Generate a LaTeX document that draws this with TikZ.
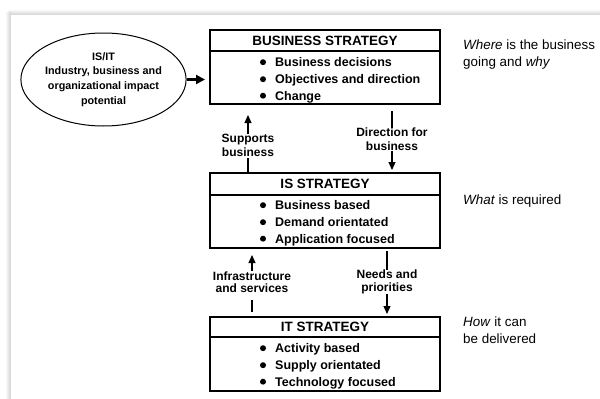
\documentclass[tikz,border=0pt]{standalone}
\usepackage{fontspec}
\setmainfont{Liberation Sans}
\usetikzlibrary{arrows.meta,shapes.geometric}
\newcommand\bulletline[3]{%
  \node[itemtext] (#1) at (275,#2) {#3};
  \fill ([xshift=-12pt,yshift=4.3pt]#1.base west) circle (3pt);}
\begin{document}
\begin{tikzpicture}[x=1pt,y=-1pt,
  titlebox/.style={draw, line width=1.1pt, minimum width=230pt, inner sep=0pt,
    font=\fontsize{13.5}{15}\selectfont\bfseries},
  bodybox/.style={draw, line width=1.1pt, minimum width=230pt, inner sep=0pt},
  itemtext/.style={anchor=base west, inner sep=0pt, font=\fontsize{12.5}{14}\selectfont\bfseries},
  lbl/.style={align=center, inner sep=0pt, font=\fontsize{12}{14}\selectfont\bfseries},
  side/.style={anchor=base west, align=left, inner sep=0pt, font=\fontsize{13.4}{17}\selectfont},
  arr/.style={line width=1.2pt, -{Triangle[length=8pt,width=7pt]}},
  plain/.style={line width=1.2pt}]
\useasboundingbox (0,0) rectangle (600,399);
% window shadow
\shade[top color=white, bottom color=black!18] (8,9) rectangle (600,15);
\shade[left color=white, right color=black!18] (5,12) rectangle (11,399);
\fill[white] (11,15) rectangle (600,399);

% business strategy
\node[titlebox, minimum height=21pt] (bst) at (325,40.5) {BUSINESS STRATEGY};
\node[bodybox, minimum height=53pt] (bsb) at (325,77.5) {};
\bulletline{b1}{66.5}{Business decisions}
\bulletline{b2}{83.5}{Objectives and direction}
\bulletline{b3}{100}{Change}

% IS strategy
\node[titlebox, minimum height=22pt] (ist) at (325,184) {IS STRATEGY};
\node[bodybox, minimum height=53pt] (isb) at (325,221.5) {};
\bulletline{i1}{209.5}{Business based}
\bulletline{i2}{226.5}{Demand orientated}
\bulletline{i3}{243}{Application focused}

% IT strategy
\node[titlebox, minimum height=20pt] (itt) at (325,327) {IT STRATEGY};
\node[bodybox, minimum height=54pt] (itb) at (325,364) {};
\bulletline{t1}{352.5}{Activity based}
\bulletline{t2}{369.5}{Supply orientated}
\bulletline{t3}{386}{Technology focused}

% ellipse
\node[draw, ellipse, line width=1pt, minimum width=159pt, minimum height=93pt, inner sep=0pt,
  align=center, font=\fontsize{10.8}{14.7}\selectfont\bfseries] (ell) at (103.5,79.5)
  {IS/IT\\Industry, business and\\organizational impact\\potential};
\coordinate (bsin) at (205,79.5);
\draw[line width=2.3pt, -{Triangle[length=9pt,width=9pt]}] (ell.east) -- (bsin);

% connectors between boxes
\node[lbl] (sb) at (248,145) {Supports\\business};
\coordinate (sbtip) at (248,115);
\draw[plain] (ist.north -| sb) -- ([yshift=-2pt]sb.south);
\draw[arr] (sb.north) -- (sbtip);

\node[lbl] (db) at (392,139.5) {Direction for\\business};
\coordinate (dbstart) at (392,111);
\coordinate (dbtip) at (392,170);
\draw[plain] (dbstart) -- (db.north);
\draw[arr] (db.south) -- (dbtip);

\node[lbl, font=\fontsize{12}{12.5}\selectfont\bfseries] (inf) at (252,282) {Infrastructure\\and services};
\coordinate (inftip) at (252,255);
\coordinate (infstart) at (252,300);
\draw[arr] (inf.north) -- (inftip);
\draw[plain] (infstart) -- ([yshift=4pt]itt.north -| inf);

\node[lbl, font=\fontsize{12}{12.5}\selectfont\bfseries] (np) at (387,282) {Needs and\\priorities};
\coordinate (nptip) at (387,314);
\draw[plain] ([yshift=-2pt]isb.south -| np) -- (np.north);
\draw[arr] (np.south) -- (nptip);

% side notes
\node[side] (where) at (463,66.5) {\textit{Where} is the business\\going and \textit{why}};
\node[side] (what) at (463,204.5) {\textit{What} is required};
\node[side] (how) at (463,343.5) {\textit{How} it can\\be delivered};
\end{tikzpicture}
\end{document}
